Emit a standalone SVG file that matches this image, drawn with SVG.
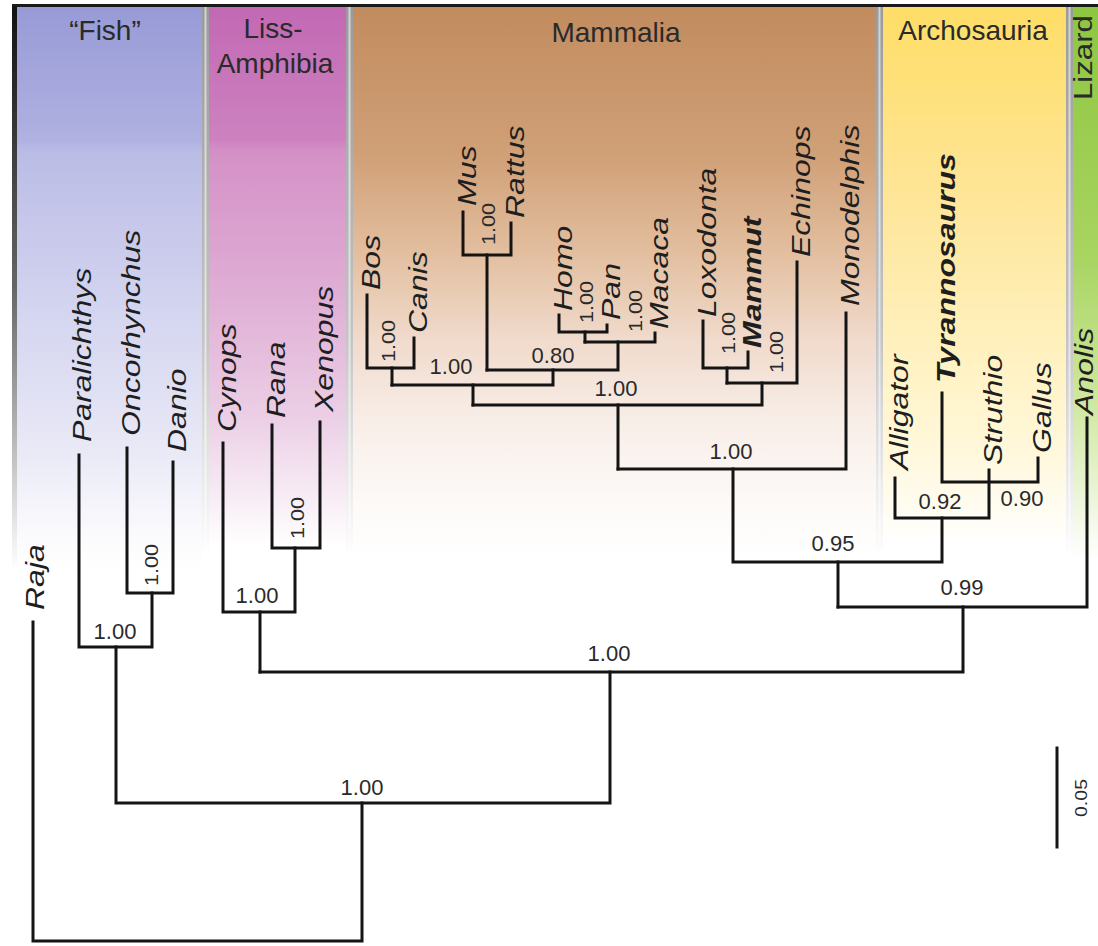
<svg xmlns="http://www.w3.org/2000/svg" width="1098" height="946" viewBox="0 0 1098 946">
<defs>
  <linearGradient id="gFish" gradientUnits="userSpaceOnUse" x1="0" y1="5" x2="0" y2="570">
    <stop offset="0" stop-color="#979ad6"/>
    <stop offset="0.24" stop-color="#b0b1e1"/>
    <stop offset="0.26" stop-color="#bbbce5"/>
    <stop offset="0.52" stop-color="#d2d3ef"/>
    <stop offset="0.78" stop-color="#e8e8f6"/>
    <stop offset="0.93" stop-color="#fafafd"/>
    <stop offset="1" stop-color="#ffffff"/>
  </linearGradient>
  <linearGradient id="gAmph" gradientUnits="userSpaceOnUse" x1="0" y1="5" x2="0" y2="545">
    <stop offset="0" stop-color="#c268b4"/>
    <stop offset="0.25" stop-color="#cd82bf"/>
    <stop offset="0.27" stop-color="#d490c6"/>
    <stop offset="0.55" stop-color="#e0b0d6"/>
    <stop offset="0.77" stop-color="#ecd0e6"/>
    <stop offset="0.92" stop-color="#f8eef6"/>
    <stop offset="1" stop-color="#ffffff"/>
  </linearGradient>
  <linearGradient id="gMamm" gradientUnits="userSpaceOnUse" x1="0" y1="5" x2="0" y2="560">
    <stop offset="0" stop-color="#c18b5e"/>
    <stop offset="0.27" stop-color="#d0a077"/>
    <stop offset="0.45" stop-color="#e3bfa0"/>
    <stop offset="0.6" stop-color="#f0dacb"/>
    <stop offset="0.75" stop-color="#f8eee8"/>
    <stop offset="0.9" stop-color="#fdfaf8"/>
    <stop offset="1" stop-color="#ffffff"/>
  </linearGradient>
  <linearGradient id="gArch" gradientUnits="userSpaceOnUse" x1="0" y1="5" x2="0" y2="545">
    <stop offset="0" stop-color="#fedd66"/>
    <stop offset="0.37" stop-color="#fee69a"/>
    <stop offset="0.64" stop-color="#fff1bf"/>
    <stop offset="0.83" stop-color="#fff8dc"/>
    <stop offset="0.95" stop-color="#fffdf5"/>
    <stop offset="1" stop-color="#ffffff"/>
  </linearGradient>
  <linearGradient id="gLiz" gradientUnits="userSpaceOnUse" x1="0" y1="5" x2="0" y2="560">
    <stop offset="0" stop-color="#8dc63f"/>
    <stop offset="0.45" stop-color="#a8d460"/>
    <stop offset="0.72" stop-color="#d0e8a0"/>
    <stop offset="0.9" stop-color="#eef6de"/>
    <stop offset="1" stop-color="#ffffff"/>
  </linearGradient>
  <linearGradient id="gSep" gradientUnits="userSpaceOnUse" x1="0" y1="5" x2="0" y2="560">
    <stop offset="0" stop-color="#9a9a9a"/>
    <stop offset="0.6" stop-color="#c4c4c4"/>
    <stop offset="1" stop-color="#ffffff"/>
  </linearGradient>
  <linearGradient id="gEdge" gradientUnits="userSpaceOnUse" x1="0" y1="5" x2="0" y2="570">
    <stop offset="0" stop-color="#111111"/>
    <stop offset="0.5" stop-color="#666666"/>
    <stop offset="1" stop-color="#ffffff"/>
  </linearGradient>
</defs>
<style>
  .tx{font-family:"Liberation Sans",Arial,sans-serif;font-style:italic;font-size:25px;fill:#1e1e1e}
  .b{font-weight:bold}
  .hd{font-family:"Liberation Sans",Arial,sans-serif;font-size:28px;fill:#2a2a2a;text-anchor:middle}
  .n{font-family:"Liberation Sans",Arial,sans-serif;font-size:22px;fill:#2a2a2a;text-anchor:middle}
  .nr{font-family:"Liberation Sans",Arial,sans-serif;font-size:18px;fill:#2a2a2a;text-anchor:middle}
  .br{fill:none;stroke:#141414;stroke-width:3;stroke-linecap:square}
  .sl{fill:#ffffff;opacity:0.55}
</style>
<rect x="0" y="0" width="1098" height="946" fill="#ffffff"/>

<g id="panels">
  <rect x="12" y="5" width="190" height="570" fill="url(#gFish)"/>
  <rect x="12" y="5" width="5" height="570" fill="url(#gEdge)"/>
  <rect x="202" y="5" width="7" height="545" fill="url(#gSep)"/>
  <rect x="204.5" y="5" width="2" height="545" class="sl"/>
  <rect x="209" y="5" width="137" height="545" fill="url(#gAmph)"/>
  <rect x="346" y="5" width="7" height="545" fill="url(#gSep)"/>
  <rect x="348.5" y="5" width="2" height="545" class="sl"/>
  <rect x="353" y="5" width="523" height="560" fill="url(#gMamm)"/>
  <rect x="876" y="5" width="7" height="545" fill="url(#gSep)"/>
  <rect x="878.5" y="5" width="2" height="545" class="sl"/>
  <rect x="883" y="5" width="183" height="545" fill="url(#gArch)"/>
  <rect x="1066" y="5" width="7" height="545" fill="url(#gSep)"/>
  <rect x="1068.5" y="5" width="2" height="545" class="sl"/>
  <rect x="1073" y="5" width="25" height="560" fill="url(#gLiz)"/>
  <rect x="12" y="4" width="1086" height="3" fill="#1a1a1a"/>
</g>

<g id="headers">
  <text class="hd" x="105" y="40">“Fish”</text>
  <text class="hd" x="273" y="38">Liss-</text>
  <text class="hd" x="275" y="73">Amphibia</text>
  <text class="hd" x="616" y="42">Mammalia</text>
  <text class="hd" x="973" y="40">Archosauria</text>
  <text class="hd" style="text-anchor:start;font-size:26px" transform="translate(1092,100) rotate(-90) scale(1.2,1)">Lizard</text>
</g>

<g id="connectors" class="br">
  <path d="M33 622 V941 H362 V803"/>
  <path d="M116 647 V803 H610 V672"/>
  <path d="M79 455 V647 H152 V593"/>
  <path d="M127 448 V593 H173 V462"/>
  <path d="M260 672 H963 V607"/>
  <path d="M260 672 V612"/>
  <path d="M223 443 V612 H295 V548"/>
  <path d="M272 425 V548 H320 V422"/>
  <path d="M838 607 H1087 V418"/>
  <path d="M838 607 V562"/>
  <path d="M733 469 V562 H942 V518"/>
  <path d="M618 469 H846 V313"/>
  <path d="M618 469 V405"/>
  <path d="M473 405 H762 V383"/>
  <path d="M473 405 V385"/>
  <path d="M392 385 H553 V370"/>
  <path d="M392 385 V368"/>
  <path d="M367 295 V368 H414 V338"/>
  <path d="M487 370 H618 V342"/>
  <path d="M487 370 V255"/>
  <path d="M463 212 V255 H511 V223"/>
  <path d="M585 342 H655 V333"/>
  <path d="M585 342 V332"/>
  <path d="M559 315 V332 H607 V325"/>
  <path d="M727 383 H797 V262"/>
  <path d="M727 383 V368"/>
  <path d="M703 321 V368 H748 V352"/>
  <path d="M895 478 V518 H989 V470"/>
  <path d="M942 393 V482 H1038 V458"/>
  <path d="M1057 748 V847"/>
</g>

<g id="taxa">
  <g id="t-raja"><text class="tx" transform="translate(44,610) rotate(-90) scale(1.28,1)">Raja</text></g>
  <g id="t-paralichthys"><text class="tx" transform="translate(91,442) rotate(-90) scale(1.28,1)">Paralichthys</text></g>
  <g id="t-oncorhynchus"><text class="tx" transform="translate(140,436) rotate(-90) scale(1.28,1)">Oncorhynchus</text></g>
  <g id="t-danio"><text class="tx" transform="translate(186,452) rotate(-90) scale(1.28,1)">Danio</text></g>
  <g id="t-cynops"><text class="tx" transform="translate(236,432) rotate(-90) scale(1.28,1)">Cynops</text></g>
  <g id="t-rana"><text class="tx" transform="translate(285,418) rotate(-90) scale(1.28,1)">Rana</text></g>
  <g id="t-xenopus"><text class="tx" transform="translate(333,412) rotate(-90) scale(1.28,1)">Xenopus</text></g>
  <g id="t-bos"><text class="tx" transform="translate(380,290) rotate(-90) scale(1.28,1)">Bos</text></g>
  <g id="t-canis"><text class="tx" transform="translate(427,333) rotate(-90) scale(1.28,1)">Canis</text></g>
  <g id="t-mus"><text class="tx" transform="translate(476,206) rotate(-90) scale(1.28,1)">Mus</text></g>
  <g id="t-rattus"><text class="tx" transform="translate(524,218) rotate(-90) scale(1.28,1)">Rattus</text></g>
  <g id="t-homo"><text class="tx" transform="translate(572,311) rotate(-90) scale(1.28,1)">Homo</text></g>
  <g id="t-pan"><text class="tx" transform="translate(620,320) rotate(-90) scale(1.28,1)">Pan</text></g>
  <g id="t-macaca"><text class="tx" transform="translate(668,329) rotate(-90) scale(1.28,1)">Macaca</text></g>
  <g id="t-loxodonta"><text class="tx" transform="translate(716,317) rotate(-90) scale(1.28,1)">Loxodonta</text></g>
  <g id="t-mammut"><text class="tx b" transform="translate(761,348) rotate(-90) scale(1.28,1)">Mammut</text></g>
  <g id="t-echinops"><text class="tx" transform="translate(810,257) rotate(-90) scale(1.28,1)">Echinops</text></g>
  <g id="t-monodelphis"><text class="tx" transform="translate(859,306) rotate(-90) scale(1.28,1)">Monodelphis</text></g>
  <g id="t-alligator"><text class="tx" transform="translate(908,470) rotate(-90) scale(1.28,1)">Alligator</text></g>
  <g id="t-tyrannosaurus"><text class="tx b" transform="translate(955,383) rotate(-90) scale(1.28,1)">Tyrannosaurus</text></g>
  <g id="t-struthio"><text class="tx" transform="translate(1002,465) rotate(-90) scale(1.28,1)">Struthio</text></g>
  <g id="t-gallus"><text class="tx" transform="translate(1051,453) rotate(-90) scale(1.28,1)">Gallus</text></g>
  <g id="t-anolis"><text class="tx" transform="translate(1093,415) rotate(-90) scale(1.28,1)">Anolis</text></g>
</g>

<g id="nodes">
  <g id="n-root"><text class="n" x="362" y="795">1.00</text></g>
  <g id="n-fish"><text class="n" x="115" y="639">1.00</text></g>
  <g id="n-onc-dan"><text class="nr" transform="translate(158,565) rotate(-90) scale(1.2,1)">1.00</text></g>
  <g id="n-tetrapoda"><text class="n" x="609" y="661">1.00</text></g>
  <g id="n-amphibia"><text class="n" x="257" y="603">1.00</text></g>
  <g id="n-rana-xen"><text class="nr" transform="translate(304,518) rotate(-90) scale(1.2,1)">1.00</text></g>
  <g id="n-amniota"><text class="n" x="962" y="595">0.99</text></g>
  <g id="n-mam-arch"><text class="n" x="833" y="551">0.95</text></g>
  <g id="n-mammalia"><text class="n" x="731" y="459">1.00</text></g>
  <g id="n-eutheria"><text class="n" x="616" y="396">1.00</text></g>
  <g id="n-boreo"><text class="n" x="451" y="374">1.00</text></g>
  <g id="n-bos-canis"><text class="nr" transform="translate(395,341) rotate(-90) scale(1.2,1)">1.00</text></g>
  <g id="n-euarch"><text class="n" x="553" y="363">0.80</text></g>
  <g id="n-mus-rat"><text class="nr" transform="translate(495,224) rotate(-90) scale(1.2,1)">1.00</text></g>
  <g id="n-homo-pan"><text class="nr" transform="translate(593,302) rotate(-90) scale(1.2,1)">1.00</text></g>
  <g id="n-primates"><text class="nr" transform="translate(642,311) rotate(-90) scale(1.2,1)">1.00</text></g>
  <g id="n-lox-mam"><text class="nr" transform="translate(735,333) rotate(-90) scale(1.2,1)">1.00</text></g>
  <g id="n-afro"><text class="nr" transform="translate(783,352) rotate(-90) scale(1.2,1)">1.00</text></g>
  <g id="n-arch"><text class="n" x="940" y="509">0.92</text></g>
  <g id="n-birds"><text class="n" x="1022" y="506">0.90</text></g>
</g>

<g id="scale">
  <text class="nr" style="font-size:17px" transform="translate(1087,798) rotate(-90) scale(1.15,1)">0.05</text>
</g>
</svg>
